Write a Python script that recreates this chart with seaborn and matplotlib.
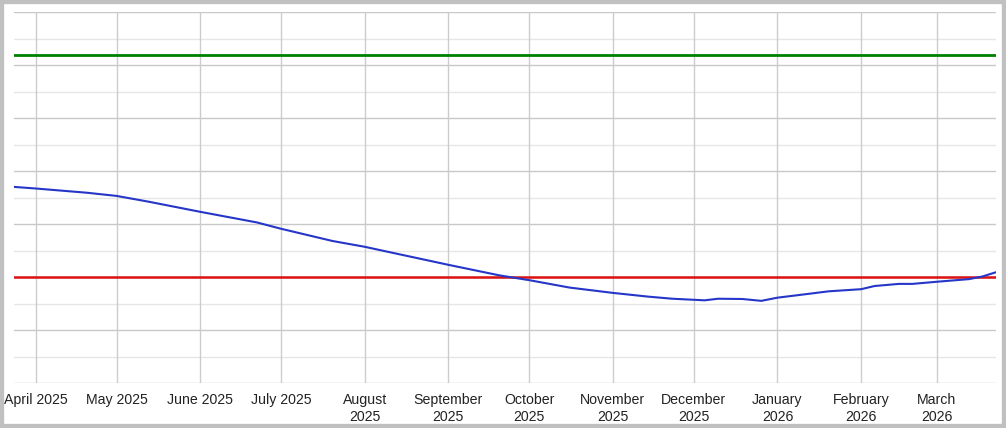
import matplotlib
matplotlib.use("Agg")
import matplotlib.pyplot as plt
from matplotlib.patches import Rectangle
import seaborn as sns
import pandas as pd

# series (arbitrary units, no y labels shown)
dates = [
    "2025-03-24", "2025-04-01", "2025-04-20", "2025-05-01", "2025-05-13",
    "2025-06-01", "2025-06-22", "2025-07-01", "2025-07-20", "2025-08-01",
    "2025-08-11", "2025-09-01", "2025-09-20", "2025-10-01", "2025-10-16",
    "2025-11-01", "2025-11-14", "2025-11-23", "2025-12-01", "2025-12-05",
    "2025-12-10", "2025-12-19", "2025-12-26", "2026-01-01", "2026-01-09",
    "2026-01-20", "2026-02-01", "2026-02-06", "2026-02-15", "2026-02-20",
    "2026-03-01", "2026-03-13", "2026-03-18", "2026-03-23",
]
values = [
    3.70, 3.67, 3.59, 3.53, 3.42,
    3.23, 3.03, 2.91, 2.68, 2.57,
    2.46, 2.23, 2.03, 1.94, 1.80,
    1.70, 1.63, 1.59, 1.57, 1.56,
    1.59, 1.585, 1.55, 1.61, 1.66,
    1.73, 1.77, 1.83, 1.87, 1.87,
    1.91, 1.96, 2.01, 2.09,
]
upper_level = 6.19
lower_level = 2.0

month_starts = pd.date_range("2025-04-01", "2026-03-01", freq="MS")
month_labels = [
    "April 2025", "May 2025", "June 2025", "July 2025", "August\n2025",
    "September\n2025", "October\n2025", "November\n2025", "December\n2025",
    "January\n2026", "February\n2026", "March\n2026",
]

df = pd.DataFrame({"date": pd.to_datetime(dates), "value": values})

sns.set_style("white")
plt.rcParams["font.family"] = ["Liberation Sans", "DejaVu Sans"]

fig = plt.figure(figsize=(10.06, 4.28), dpi=100)
ax = fig.add_axes([14 / 1006, 45 / 428, 982 / 1006, 371 / 428])

# horizontal grid: major every unit, minor halfway
for y in range(0, 8):
    ax.axhline(y, color="#c8c8c8", lw=1.0, zorder=0)
for y in [i + 0.5 for i in range(7)]:
    ax.axhline(y, color="#e6e6e6", lw=1.0, zorder=0)
for d in month_starts:
    ax.axvline(d, color="#cccccc", lw=1.0, zorder=0)

ax.axhline(upper_level, color="#008000", lw=2.0, zorder=2)
ax.axhline(lower_level, color="#dd1111", lw=1.8, zorder=2)

sns.lineplot(data=df, x="date", y="value", ax=ax, color="#2536c8", lw=1.5, zorder=3)

ax.set_xlim(pd.Timestamp("2025-03-24"), pd.Timestamp("2026-03-23"))
ax.set_ylim(0, 7)
ax.set_xticks(month_starts)
ax.set_xticklabels(month_labels, fontsize=10.2, color="#222222", linespacing=1.3, va="top")
ax.tick_params(axis="x", length=0, pad=7)
ax.set_yticks([])
ax.set_xlabel("")
ax.set_ylabel("")
for s in ax.spines.values():
    s.set_visible(False)

fig.patches.append(Rectangle((0, 0), 1, 1, transform=fig.transFigure, fill=False,
                             edgecolor="#c0c0c0", lw=6, zorder=10))

plt.savefig("out.png", dpi=100)
